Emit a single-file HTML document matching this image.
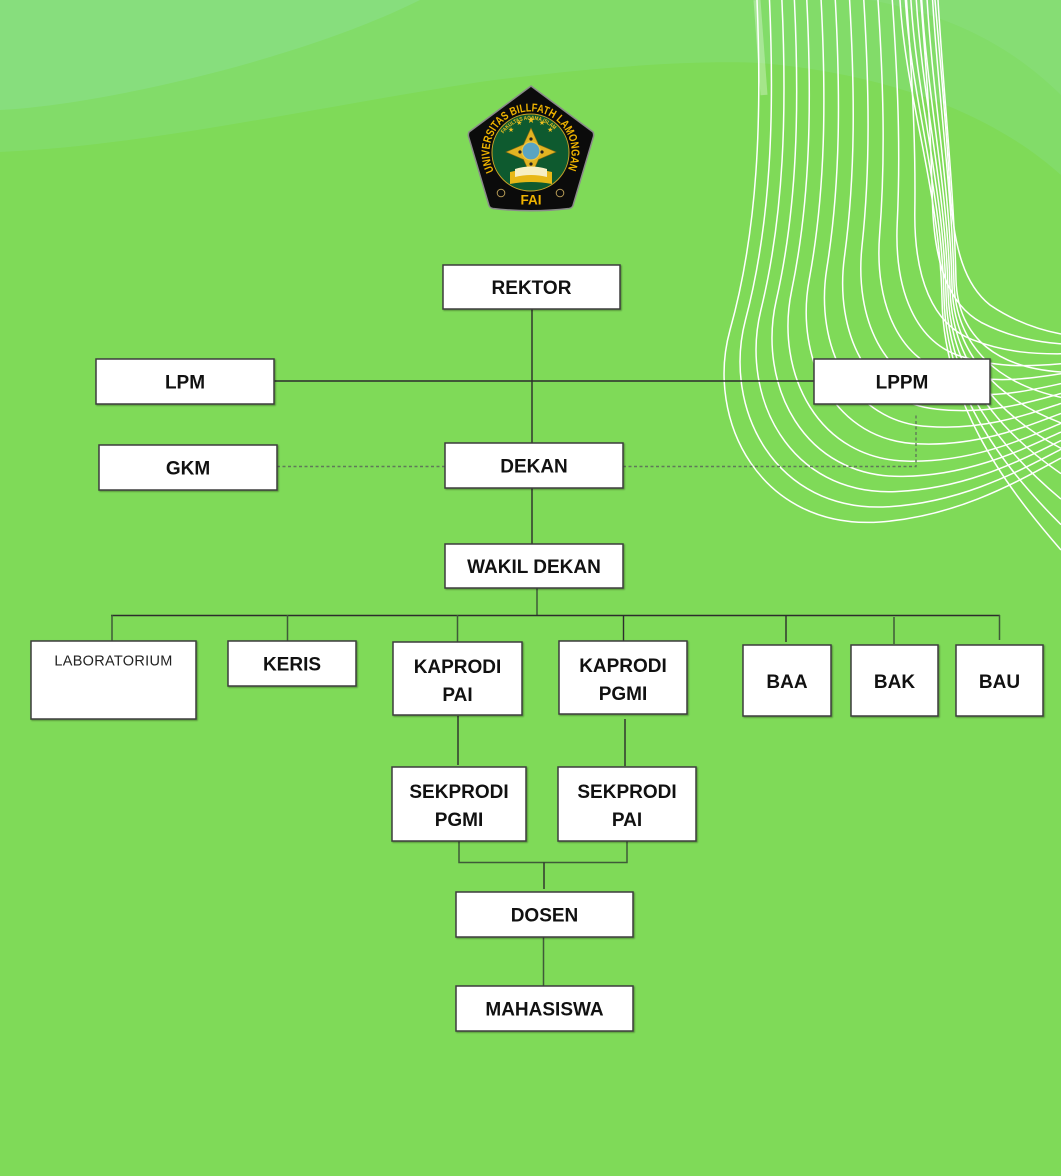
<!DOCTYPE html>
<html>
<head>
<meta charset="utf-8">
<style>
  html,body{margin:0;padding:0;background:#7FDA58;}
  svg{display:block;}
  .lbl{font-family:"Liberation Sans",Arial,sans-serif;font-weight:bold;font-size:19px;fill:#111;text-anchor:middle;}
  .box{fill:#fff;stroke:#3c3c3c;stroke-width:1.5;}
  .con{stroke:#2c2c2c;stroke-width:1.4;fill:none;}
  .cong{stroke:#3f5a38;stroke-width:1.5;fill:none;}
  .dash{stroke:#5f7a58;stroke-width:1.4;stroke-dasharray:3 2.5;fill:none;}
  .wl{stroke:#fff;stroke-width:1.5;fill:none;}
</style>
</head>
<body>
<svg width="1061" height="1176" viewBox="0 0 1061 1176" xmlns="http://www.w3.org/2000/svg">
  <defs>
    <filter id="sh" x="-5%" y="-5%" width="115%" height="120%">
      <feDropShadow dx="1" dy="1" stdDeviation="0.8" flood-color="#000" flood-opacity="0.35"/>
    </filter>
  </defs>

  <!-- background -->
  <rect x="0" y="0" width="1061" height="1176" fill="#7FDA58"/>
  <path d="M0,0 H1061 V175 C1000,120 900,75 760,63 C700,60 600,66 480,82 C300,110 150,145 0,152 Z" fill="#82DC69"/>
  <path d="M0,0 H420 C300,60 100,105 0,110 Z" fill="#87DE7D"/>
  <path d="M870,0 H1061 V95 C1010,45 950,15 870,0 Z" fill="#86DD74"/>

  <!-- white decorative lines -->
  <path d="M757,0 C760,40 762,70 764,95" stroke="#fff" stroke-width="7" opacity="0.3" fill="none"/>
  <g class="wl">
    <path d="M757,0 C762,120 758,230 730,330 C705,420 760,530 880,522 C960,516 1020,480 1061,458"/>
    <path d="M769.5,0 C774.5,115.8 771.2,222.3 745.4,320.2 C722.4,408.1 774.4,512.8 887.7,506.8 C963.9,502.4 1021.4,469.5 1061,449.3"/>
    <path d="M781.9,0 C786.9,111.6 784.3,214.6 760.8,310.4 C739.9,396.2 788.7,495.7 895.4,491.6 C967.7,488.8 1022.8,459 1061,440.6"/>
    <path d="M794.4,0 C799.4,107.4 797.5,206.9 776.2,300.6 C757.3,384.3 803,478.5 903.1,476.4 C971.6,475.3 1024.2,448.5 1061,432"/>
    <path d="M806.8,0 C811.8,103.2 810.6,199.2 791.6,290.8 C774.7,372.4 817.4,461.4 910.8,461.2 C975.4,461.7 1025.6,438 1061,423.3"/>
    <path d="M821.1,0 C826.1,98.4 825.7,190.4 809.2,279.6 C794.6,358.8 833.8,441.8 919.6,443.9 C979.8,446.2 1027.2,426 1061,413.4"/>
    <path d="M835.3,0 C840.3,93.6 840.7,181.6 826.8,268.4 C814.6,345.2 850.2,422.2 928.4,426.5 C984.2,430.6 1028.8,414 1061,403.4"/>
    <path d="M849.6,0 C854.6,88.8 855.8,172.8 844.4,257.2 C834.5,331.6 866.6,402.6 937.2,409.2 C988.6,415.1 1030.4,402 1061,393.5"/>
    <path d="M863.8,0 C868.8,84 870.8,164 862,246 C854.4,318 883,383 946,391.8 C993,399.6 1032,390 1061,383.6"/>
    <path d="M878,0 C883,79.2 885.8,155.2 879.6,234.8 C874.3,304.4 899.4,363.4 954.8,374.4 C997.4,384.1 1033.6,378 1061,373.7"/>
    <path d="M892.3,0 C897.3,74.4 900.9,146.4 897.2,223.6 C894.2,290.8 915.8,343.8 963.6,357.1 C1001.8,368.6 1035.2,366 1061,363.8"/>
    <path d="M906.5,0 C911.5,69.6 915.9,137.6 914.8,212.4 C914.2,277.2 932.2,324.2 972.4,339.7 C1006.2,353 1036.8,354 1061,353.8"/>
    <path d="M920.8,0 C925.8,64.8 931,128.8 932.4,201.2 C934.1,263.6 948.6,304.6 981.2,322.4 C1010.6,337.5 1038.4,342 1061,343.9"/>
    <path d="M935,0 C940,60 946,120 950,190 C954,250 965,285 990,305 C1015,322 1040,330 1061,334"/>

    <path d="M900,0 C906,100 940,190 942,300 C944,400 1000,480 1061,550"/>
    <path d="M905.4,0 C911.4,100 942,190 944,297.1 C946,391.4 1000,464 1061,524.6"/>
    <path d="M910.9,0 C916.9,100 944,190 946,294.3 C948,382.9 1000,448 1061,499.1"/>
    <path d="M916.3,0 C922.3,100 946,190 948,291.4 C950,374.3 1000,432 1061,473.6"/>
    <path d="M921.7,0 C927.7,100 948,190 950,288.6 C952,365.7 1000,416 1061,448.4"/>
    <path d="M927.1,0 C933.1,100 950,190 952,285.7 C954,357.1 1000,400 1061,422.9"/>
    <path d="M932.6,0 C938.6,100 952,190 954,282.9 C956,348.6 1000,384 1061,397.4"/>
    <path d="M938,0 C944,100 954,190 956,280 C958,340 1000,368 1061,372"/>
  </g>

  <!-- logo -->
  <g>
    <path d="M531,86 L593,132 Q594,134 593.5,136.5 L573,205.5 Q572,208 569,208.5 Q531,213 493,208.5 Q490,208 489,205.5 L468.5,136.5 Q468,134 469,132 Z" fill="#0b0b0b" stroke="#8a8a8a" stroke-width="1.5"/>
    <circle cx="530.5" cy="152.5" r="38.5" fill="#0e5a2f" stroke="#c9a227" stroke-width="1"/>
    <path id="arcT" d="M494,171.1 A41,41 0 1 1 567,171.1" fill="none"/>
    <text font-family="Liberation Sans, Arial, sans-serif" font-weight="bold" font-size="11.5" fill="#f0b400"><textPath href="#arcT" textLength="165" lengthAdjust="spacingAndGlyphs">UNIVERSITAS BILLFATH LAMONGAN</textPath></text>
    <path id="arcS" d="M503.5,133.6 A33,33 0 0 1 557.5,133.6" fill="none"/>
    <text font-family="Liberation Sans, Arial, sans-serif" font-weight="bold" font-size="5.5" fill="#f0c020"><textPath href="#arcS" textLength="58" lengthAdjust="spacingAndGlyphs">FAKULTAS AGAMA ISLAM</textPath></text>
    <g font-family="DejaVu Sans, sans-serif" font-size="7" fill="#f0c020" text-anchor="middle">
      <text x="511" y="132">★</text>
      <text x="519.3" y="125">★</text>
      <text x="531" y="123" font-size="9">★</text>
      <text x="542" y="125">★</text>
      <text x="550.3" y="132">★</text>
    </g>
    <path d="M531,128 L538.5,144.5 L556,152 L538.5,159.5 L531,176 L523.5,159.5 L506,152 L523.5,144.5 Z" fill="#e2b422" stroke="#8a6a10" stroke-width="0.6"/>
    <circle cx="531" cy="151" r="9" fill="#5aa4c2" stroke="#f0c840" stroke-width="1.2"/>
    <circle cx="520" cy="152" r="1.6" fill="#222"/>
    <circle cx="542" cy="152" r="1.6" fill="#222"/>
    <circle cx="531" cy="139" r="1.6" fill="#222"/>
    <circle cx="531" cy="164" r="1.6" fill="#222"/>
    <path d="M510,172 Q531,167 552,172 L552,184 Q531,180 510,184 Z" fill="#e8b818"/>
    <path d="M515,169 Q531,164 547,169 L547,177 Q531,173 515,177 Z" fill="#f7efc4"/>
    <circle cx="501" cy="193" r="3.8" fill="none" stroke="#b59a55" stroke-width="1"/>
    <circle cx="560" cy="193" r="3.8" fill="none" stroke="#b59a55" stroke-width="1"/>
    <text x="531" y="204.5" font-family="Liberation Sans, Arial, sans-serif" font-weight="bold" font-size="13.5" fill="#f0b400" text-anchor="middle">FAI</text>
  </g>

  <!-- connectors -->
  <line class="con" x1="532" y1="309" x2="532" y2="443"/>
  <line class="con" x1="274" y1="381" x2="814" y2="381"/>
  <line class="con" x1="532" y1="488" x2="532" y2="544"/>
  <line class="cong" x1="537" y1="588" x2="537" y2="615"/>
  <line class="con" x1="111" y1="615.5" x2="1000" y2="615.5"/>
  <line class="cong" x1="112" y1="615" x2="112" y2="641"/>
  <line class="cong" x1="287.5" y1="615" x2="287.5" y2="641"/>
  <line class="cong" x1="457.5" y1="615" x2="457.5" y2="642"/>
  <line class="con" x1="623.5" y1="615" x2="623.5" y2="641"/>
  <line class="con" x1="786" y1="615" x2="786" y2="642"/>
  <line class="cong" x1="894" y1="617" x2="894" y2="644"/>
  <line class="cong" x1="999.5" y1="615" x2="999.5" y2="640"/>
  <line class="con" x1="458" y1="716" x2="458" y2="765"/>
  <line class="con" x1="625" y1="719" x2="625" y2="766"/>
  <path class="cong" d="M459,841 V862.5 H627 V841"/>
  <line class="con" x1="544" y1="862.5" x2="544" y2="889"/>
  <line class="cong" x1="543.5" y1="937" x2="543.5" y2="986"/>

  <path class="dash" d="M277,466.5 H445"/>
  <path class="dash" d="M623,466.5 H916 V413"/>

  <!-- boxes -->
  <g filter="url(#sh)">
    <rect class="box" x="443" y="265" width="177" height="44"/>
    <rect class="box" x="96" y="359" width="178" height="45"/>
    <rect class="box" x="814" y="359" width="176" height="45"/>
    <rect class="box" x="99" y="445" width="178" height="45"/>
    <rect class="box" x="445" y="443" width="178" height="45"/>
    <rect class="box" x="445" y="544" width="178" height="44"/>
    <rect class="box" x="31" y="641" width="165" height="78"/>
    <rect class="box" x="228" y="641" width="128" height="45"/>
    <rect class="box" x="393" y="642" width="129" height="73"/>
    <rect class="box" x="559" y="641" width="128" height="73"/>
    <rect class="box" x="743" y="645" width="88" height="71"/>
    <rect class="box" x="851" y="645" width="87" height="71"/>
    <rect class="box" x="956" y="645" width="87" height="71"/>
    <rect class="box" x="392" y="767" width="134" height="74"/>
    <rect class="box" x="558" y="767" width="138" height="74"/>
    <rect class="box" x="456" y="892" width="177" height="45"/>
    <rect class="box" x="456" y="986" width="177" height="45"/>
  </g>

  <!-- labels -->
  <text class="lbl" x="531.5" y="294">REKTOR</text>
  <text class="lbl" x="185" y="388.5">LPM</text>
  <text class="lbl" x="902" y="388.5">LPPM</text>
  <text class="lbl" x="188" y="474.5">GKM</text>
  <text class="lbl" x="534" y="472.5">DEKAN</text>
  <text class="lbl" x="534" y="573">WAKIL DEKAN</text>
  <text x="113.5" y="665.5" font-family="Liberation Sans, Arial, sans-serif" font-size="14.5" fill="#222" text-anchor="middle" letter-spacing="0.3">LABORATORIUM</text>
  <text class="lbl" x="292" y="670.5">KERIS</text>
  <text class="lbl" x="457.5" y="673">KAPRODI</text>
  <text class="lbl" x="457.5" y="701">PAI</text>
  <text class="lbl" x="623" y="672">KAPRODI</text>
  <text class="lbl" x="623" y="700">PGMI</text>
  <text class="lbl" x="787" y="688">BAA</text>
  <text class="lbl" x="894.5" y="688">BAK</text>
  <text class="lbl" x="999.5" y="688">BAU</text>
  <text class="lbl" x="459" y="798">SEKPRODI</text>
  <text class="lbl" x="459" y="826">PGMI</text>
  <text class="lbl" x="627" y="798">SEKPRODI</text>
  <text class="lbl" x="627" y="826">PAI</text>
  <text class="lbl" x="544.5" y="921.5">DOSEN</text>
  <text class="lbl" x="544.5" y="1015.5">MAHASISWA</text>
</svg>
</body>
</html>
